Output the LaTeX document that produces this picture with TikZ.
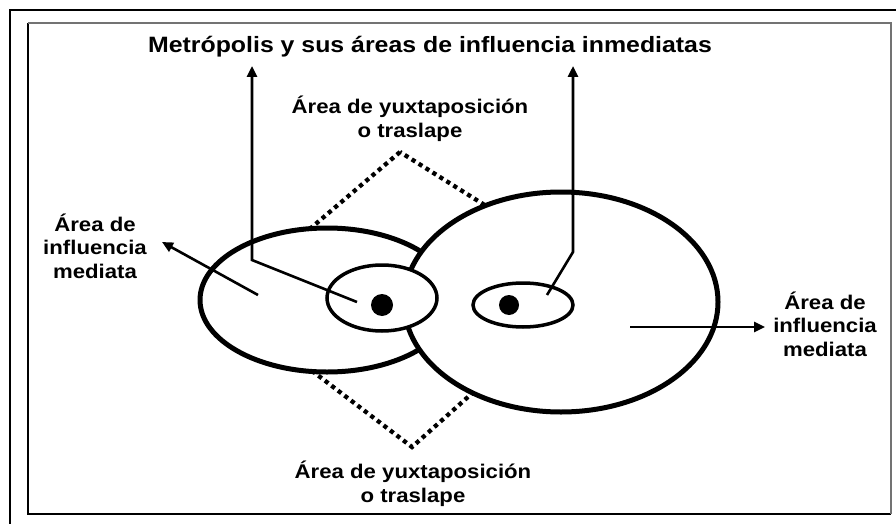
\documentclass[tikz,border=0pt]{standalone}
\usepackage{fontspec}
\setmainfont{Liberation Sans}[FakeStretch=1.12]
\usetikzlibrary{arrows.meta,shapes.geometric}
\begin{document}
\begin{tikzpicture}[x=1pt,y=-1pt,
  lbl/.style={font=\bfseries\fontsize{19.8}{23.5}\selectfont, align=center, inner sep=0pt},
  ttl/.style={font=\bfseries\fontsize{22.2}{23}\selectfont, inner sep=0pt},
  big/.style={ellipse, draw, line width=5pt, fill=white, inner sep=0pt},
  small/.style={ellipse, draw, line width=3.5pt, fill=white, inner sep=0pt},
  blob/.style={circle, fill=black, inner sep=0pt},
  arr/.style={line width=2.6pt, -{Triangle[length=11pt,width=10pt]}},
  dots/.style={line width=4.3pt, dash pattern=on 4.2pt off 4pt}]
\useasboundingbox (0,0) rectangle (896,524);
\clip (0,0) rectangle (896,524);
\fill[white] (0,0) rectangle (896,524);
% frames
\draw[line width=2.5pt] (10,540) -- (10,10) -- (910,10);
\draw[line width=1.2pt] (891,514) -- (28,514) -- (28,23);
\draw[line width=1.2pt, black!55] (28,23) -- (891,23) -- (891,514);
% dotted overlap diamond
\coordinate (dt) at (400,152);
\coordinate (dl) at (223,303);
\coordinate (db) at (412,447);
\coordinate (dr) at (601,278);
\draw[dots] (dt) -- (dl) -- (db) -- (dr) -- cycle;
% ellipses
\node[big, minimum width=254pt, minimum height=144pt] (L) at (327,300) {};
\node[big, minimum width=314pt, minimum height=220pt] (R) at (561,302) {};
\node[small, minimum width=110pt, minimum height=66pt] (ls) at (382,298) {};
\node[small, minimum width=100pt, minimum height=44pt] (rs) at (523,305) {};
\node[blob, minimum size=22pt] (ld) at (382,305) {};
\node[blob, minimum size=20pt] (rd) at (509,305) {};
% texts
\node[ttl] (title) at (430,47) {Metrópolis y sus áreas de influencia inmediatas};
\node[lbl] (top) at (410,119) {Área de yuxtaposición\\o traslape};
\node[lbl] (bot) at (413,484) {Área de yuxtaposición\\o traslape};
\node[lbl] (lm) at (95,246) {Área de\\influencia\\mediata};
\node[lbl] (rm) at (825,324) {Área de\\influencia\\mediata};
% leaders to title
\coordinate (lp) at (357,302);
\coordinate (lc) at (252,260);
\coordinate (lt) at (252,66);
\draw[arr] (lp) -- (lc) -- (lt);
\coordinate (rp) at (547,295);
\coordinate (rc) at (573,252);
\coordinate (rt) at (573,66);
\draw[arr] (rp) -- (rc) -- (rt);
% mediata arrows
\coordinate (la) at (258,295);
\coordinate (lat) at (162,242);
\draw[arr] (la) -- (lat);
\coordinate (ra) at (630,327);
\coordinate (rat) at (765,327);
\draw[arr] (ra) -- (rat);
\end{tikzpicture}
\end{document}
